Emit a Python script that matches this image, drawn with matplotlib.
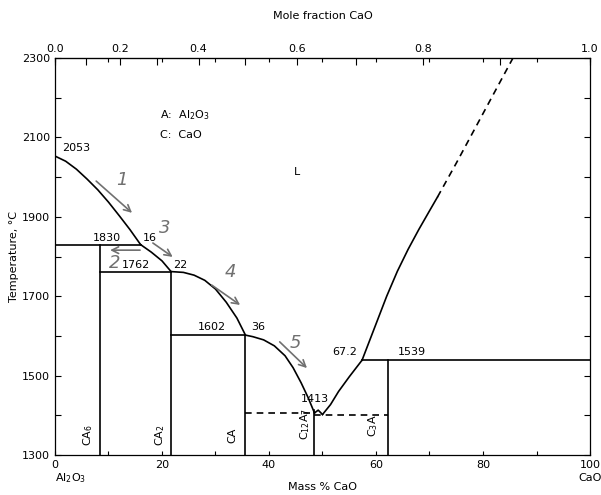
import numpy as np
import matplotlib
matplotlib.use("Agg")
import matplotlib.pyplot as plt
from matplotlib.ticker import FixedLocator, FixedFormatter, MultipleLocator

# --- phase diagram data (mass % CaO, temperature in C) ---
liq_al2o3 = [(0, 2053), (2, 2040), (4, 2020), (6, 1995), (8, 1968), (10, 1937),
             (12, 1903), (14, 1868), (16, 1830)]
liq_ca6 = [(16, 1830), (18, 1811), (20, 1789), (21.7, 1762)]
liq_ca2 = [(21.7, 1762), (24, 1760), (26, 1753), (28, 1740), (30, 1718),
           (32, 1685), (34, 1645), (35.6, 1602)]
liq_ca = [(35.6, 1602), (37, 1598), (39, 1590), (41, 1575), (43, 1550),
          (44.5, 1520), (46, 1482), (47.3, 1445), (48.5, 1406)]
liq_c12a7 = [(48.5, 1406), (49.2, 1413), (50.0, 1402)]
liq_c3a = [(50.0, 1402), (51.5, 1427), (53, 1460), (55, 1497), (57.4, 1539)]
liq_cao = [(57.4, 1539), (60, 1630), (62, 1700), (64, 1763), (66, 1818),
           (68, 1868), (70, 1915), (71.5, 1950)]
liq_cao_dashed = [(71.5, 1950), (75, 2035), (80, 2160), (85.6, 2300)]

# invariant lines: (x0, x1, T)
isotherms = [(0, 16, 1830), (8.4, 21.7, 1762), (21.7, 35.6, 1602), (57.4, 100, 1539)]
isotherms_dashed = [(35.6, 48.5, 1407), (48.5, 62.3, 1402)]

# compounds: name, mass % CaO, top temperature, label position
compounds = ["CA$_6$", "CA$_2$", "CA", "C$_{12}$A$_7$", "C$_3$A"]
comp_x = [8.4, 21.7, 35.6, 48.5, 62.3]
comp_top = [1830, 1762, 1602, 1413, 1539]
comp_label_x = [6.2, 19.6, 33.1, 46.7, 59.4]
comp_label_y = [1350, 1350, 1350, 1378, 1375]

# temperature labels: text, x, y
point_labels = [("2053", 1.3, 2073, "left"), ("1830", 9.7, 1847, "center"),
                ("16", 17.8, 1847, "center"), ("1762", 15.1, 1779, "center"),
                ("22", 23.4, 1779, "center"), ("1602", 29.3, 1622, "center"),
                ("36", 37.9, 1622, "center"), ("67.2", 54.2, 1559, "center"),
                ("1539", 66.7, 1559, "center"), ("1413", 48.6, 1441, "center")]

# pencil arrows: number, tail, head, number position
sketch_arrows = [("1", (7.7, 1990), (14.4, 1910), (12.5, 1993)),
                 ("2", (15.9, 1816), (10.3, 1816), (11.2, 1784)),
                 ("3", (18.3, 1834), (22.0, 1799), (20.6, 1872)),
                 ("4", (29.3, 1728), (34.6, 1678), (32.7, 1761)),
                 ("5", (42.0, 1585), (47.1, 1519), (44.9, 1582))]

temp_ticks = [1300, 1500, 1700, 1900, 2100, 2300]

M_CAO, M_AL2O3 = 56.08, 101.96


def mass_to_mole(w):
    w = np.asarray(w, dtype=float) / 100.0
    with np.errstate(divide="ignore", invalid="ignore"):
        nc = w / M_CAO
        na = (1 - w) / M_AL2O3
        return nc / (nc + na)


def mole_to_mass(x):
    x = np.asarray(x, dtype=float)
    with np.errstate(divide="ignore", invalid="ignore"):
        return 100.0 * x * M_CAO / (x * M_CAO + (1 - x) * M_AL2O3)


plt.rcParams["font.family"] = "DejaVu Sans"
fig = plt.figure(figsize=(6.01, 4.95), dpi=100)
ax = fig.add_axes([0.0915, 0.0808, 0.8902, 0.802])

lw = 1.2
for seg in [liq_al2o3, liq_ca6, liq_ca2, liq_ca, liq_c12a7, liq_c3a, liq_cao]:
    xs, ys = zip(*seg)
    ax.plot(xs, ys, color="black", lw=lw)
xs, ys = zip(*liq_cao_dashed)
ax.plot(xs, ys, color="black", lw=lw, ls=(0, (4, 3)))

for x0, x1, t in isotherms:
    ax.plot([x0, x1], [t, t], color="black", lw=lw)
for x0, x1, t in isotherms_dashed:
    ax.plot([x0, x1], [t, t], color="black", lw=lw, ls=(0, (4, 3)))

for name, cx, top, lx, ly in zip(compounds, comp_x, comp_top, comp_label_x, comp_label_y):
    ax.plot([cx, cx], [1300, top], color="black", lw=lw)
    ax.text(lx, ly, name, rotation=90, ha="center", va="center", fontsize=8)

for txt, x, y, ha in point_labels:
    ax.text(x, y, txt, ha=ha, va="center", fontsize=8)

ax.text(45.2, 2013, "L", ha="center", va="center", fontsize=8)
ax.text(19.6, 2156, "A:  Al$_2$O$_3$", ha="left", va="center", fontsize=8)
ax.text(19.6, 2106, "C:  CaO", ha="left", va="center", fontsize=8)

gray = "#707070"
for num, tail, head, npos in sketch_arrows:
    ax.annotate("", xy=head, xytext=tail,
                arrowprops=dict(arrowstyle="->", color=gray, lw=1.2,
                                shrinkA=0, shrinkB=0, mutation_scale=12))
    ax.text(npos[0], npos[1], num, color=gray, fontsize=13, style="italic",
            ha="center", va="center")

ax.set_xlim(0, 100)
ax.set_ylim(1300, 2300)

# bottom / left axes
ax.xaxis.set_major_locator(MultipleLocator(20))
ax.xaxis.set_minor_locator(MultipleLocator(10))
ax.yaxis.set_major_locator(FixedLocator(temp_ticks))
ax.yaxis.set_minor_locator(MultipleLocator(100))
ax.tick_params(which="both", direction="in", length=4, width=0.8,
               top=True, right=True, labelsize=8)
ax.tick_params(which="both", axis="x", length=3)
for s in ax.spines.values():
    s.set_linewidth(0.9)

ax.set_xlabel("Mass % CaO", fontsize=8, labelpad=9)
ax.set_ylabel("Temperature, °C", fontsize=8, labelpad=2)
ax.text(0, -0.058, "Al$_2$O$_3$", transform=ax.transAxes, ha="left", va="center", fontsize=8)
ax.text(1.0, -0.058, "CaO", transform=ax.transAxes, ha="center", va="center", fontsize=8)

# top axis in mole fraction
secax = ax.secondary_xaxis("top", functions=(mass_to_mole, mole_to_mass))
mole_ticks = np.round(np.arange(0, 1.01, 0.1), 1)
secax.xaxis.set_major_locator(FixedLocator(mole_ticks))
secax.xaxis.set_major_formatter(FixedFormatter(
    [f"{v:.1f}" if i % 2 == 0 else "" for i, v in enumerate(mole_ticks)]))
secax.tick_params(direction="in", length=5, width=0.8, labelsize=8, pad=3)
secax.set_xlabel("Mole fraction CaO", fontsize=8, labelpad=18)

fig.savefig("out.png", dpi=100, facecolor="white")
